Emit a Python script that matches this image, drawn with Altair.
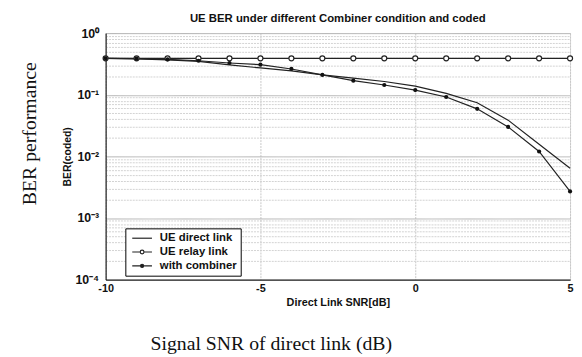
import altair as alt
import pandas as pd

# ---- data ----
snr = [-10, -9, -8, -7, -6, -5, -4, -3, -2, -1, 0, 1, 2, 3, 4, 5]
ber_direct = [0.39, 0.383, 0.368, 0.347, 0.306, 0.272, 0.244, 0.21, 0.186, 0.164,
              0.138, 0.105, 0.074, 0.0387, 0.0157, 0.0064]
ber_relay = [0.39, 0.39, 0.39, 0.39, 0.39, 0.39, 0.39, 0.39, 0.39, 0.39,
             0.39, 0.39, 0.39, 0.39, 0.39, 0.39]
ber_combiner = [0.39, 0.385, 0.375, 0.356, 0.327, 0.308, 0.262, 0.21, 0.169, 0.144,
                0.119, 0.092, 0.059, 0.030, 0.012, 0.0027]
series_names = ["UE direct link", "UE relay link", "with combiner"]

x_ticks = [-10, -5, 0, 5]
y_major = [0.0001, 0.001, 0.01, 0.1, 1]
y_major_labels = ["10\u207b\u2074", "10\u207b\u00b3", "10\u207b\u00b2", "10\u207b\u00b9", "10\u2070"]
y_minor = [m * d for d in [0.0001, 0.001, 0.01, 0.1] for m in [2, 3, 4, 5, 6, 7, 8, 9]]

title_text = "UE BER under different Combiner condition and coded"
x_title = "Direct Link SNR[dB]"
y_title = "BER(coded)"
outer_y_label = "BER performance"
outer_x_label = "Signal SNR of direct link (dB)"

# ---- table ----
rows = []
for name, vals in zip(series_names, [ber_direct, ber_relay, ber_combiner]):
    for s, b in zip(snr, vals):
        rows.append({"snr": s, "ber": b, "series": name})
df = pd.DataFrame(rows)

SANS = "Liberation Sans"
SERIF = "Liberation Serif"
INK = "#222222"

major_test = "indexof([" + ",".join(str(v) for v in y_major) + "], datum.value) >= 0"
label_expr = " : ".join(
    f"datum.value == {v} ? '{l}'" for v, l in zip(y_major, y_major_labels)
) + " : ''"

x_enc = alt.X(
    "snr:Q",
    scale=alt.Scale(domain=[-10, 5], nice=False, zero=False),
    axis=alt.Axis(
        values=x_ticks, title=x_title, labelExpr="'' + datum.value",
        labelFont=SANS, labelFontWeight="bold", labelFontSize=11, labelColor="#111",
        titleFont=SANS, titleFontWeight="bold", titleFontSize=11, titleColor="#111",
        labelPadding=3, titlePadding=3, ticks=False,
        grid=True, gridColor="#c8c8c8", gridDash=[2, 1], gridWidth=1,
        domainColor="black", labelFlush=False,
    ),
)
y_enc = alt.Y(
    "ber:Q",
    scale=alt.Scale(type="log", domain=[0.0001, 1], nice=False),
    axis=alt.Axis(
        values=y_major + y_minor, labelExpr=label_expr, labelOverlap=False,
        title=y_title,
        labelFont=SANS, labelFontWeight="bold", labelFontSize=12.5, labelColor="#111",
        titleFont=SANS, titleFontWeight="bold", titleFontSize=10.5, titleColor="#111",
        labelPadding=7, titlePadding=3, ticks=False,
        grid=True,
        gridColor={"condition": {"test": major_test, "value": "#b4b4b4"}, "value": "#d2d2d2"},
        gridDash={"condition": {"test": major_test, "value": [1, 0]}, "value": [2, 1]},
        gridWidth=1, domainColor="black", labelFlush=False,
    ),
)

base = alt.Chart(df)

lines = base.mark_line(color=INK, strokeWidth=1.2).encode(
    x=x_enc, y=y_enc, detail="series:N"
)
relay_pts = base.transform_filter(alt.datum.series == "UE relay link").mark_point(
    shape="circle", size=26, filled=False, stroke=INK, strokeWidth=1.2,
    fill="white", fillOpacity=1, opacity=1,
).encode(x=x_enc, y=y_enc)
comb_pts = base.transform_filter(alt.datum.series == "with combiner").mark_circle(
    size=18, color="#111111", opacity=1
).encode(x=x_enc, y=y_enc)

# legend symbols: line with marker (custom paths)
sym_paths = [
    "M-2,0H2",
    "M-2,0H-0.38M0.38,0H2M0.38,0A0.38,0.38,0,1,1,-0.38,0A0.38,0.38,0,1,1,0.38,0Z",
    "M-2,0H2M0.32,0A0.32,0.32,0,1,1,-0.32,0A0.32,0.32,0,1,1,0.32,0Z",
]
leg = alt.Legend(
    title=None, orient="none", legendX=20, legendY=198,
    strokeColor="black", fillColor="white", padding=4,
    labelFont=SANS, labelFontWeight="bold", labelFontSize=11.5, labelColor="#111",
    symbolSize=100, symbolStrokeWidth=1.2, symbolOffset=7, labelOffset=12,
    rowPadding=2, labelLimit=200,
)
legend_layer = base.transform_filter("false").mark_point(opacity=1, strokeWidth=1.2).encode(
    x=x_enc, y=y_enc,
    shape=alt.Shape("series:N", scale=alt.Scale(domain=series_names, range=sym_paths), legend=leg),
    fill=alt.Fill("series:N", scale=alt.Scale(domain=series_names, range=["white", "white", "#111111"]), legend=leg),
    stroke=alt.Stroke("series:N", scale=alt.Scale(domain=series_names, range=[INK, INK, INK]), legend=leg),
)

outer_y = alt.Chart(pd.DataFrame({"t": [outer_y_label]})).mark_text(
    font=SERIF, fontSize=20, angle=270, color="#111", align="center", baseline="middle"
).encode(text="t:N", x=alt.value(-77), y=alt.value(102))
outer_x = alt.Chart(pd.DataFrame({"t": [outer_x_label]})).mark_text(
    font=SERIF, fontSize=20, color="#111", align="center", baseline="middle"
).encode(text="t:N", x=alt.value(168), y=alt.value(315))

chart = alt.layer(lines, relay_pts, comb_pts, legend_layer, outer_y, outer_x).properties(
    width=471, height=250,
    title=alt.Title(title_text, font=SANS, fontWeight="bold", fontSize=11.5,
                    color="#111", offset=3, anchor="middle"),
    autosize=alt.AutoSizeParams(type="none"),
    padding={"left": 99, "top": 23, "right": 4, "bottom": 76},
).configure_view(stroke="black", strokeWidth=1).configure(background="white")

chart.save("out.html", embed_options={"renderer": "svg", "actions": False})
